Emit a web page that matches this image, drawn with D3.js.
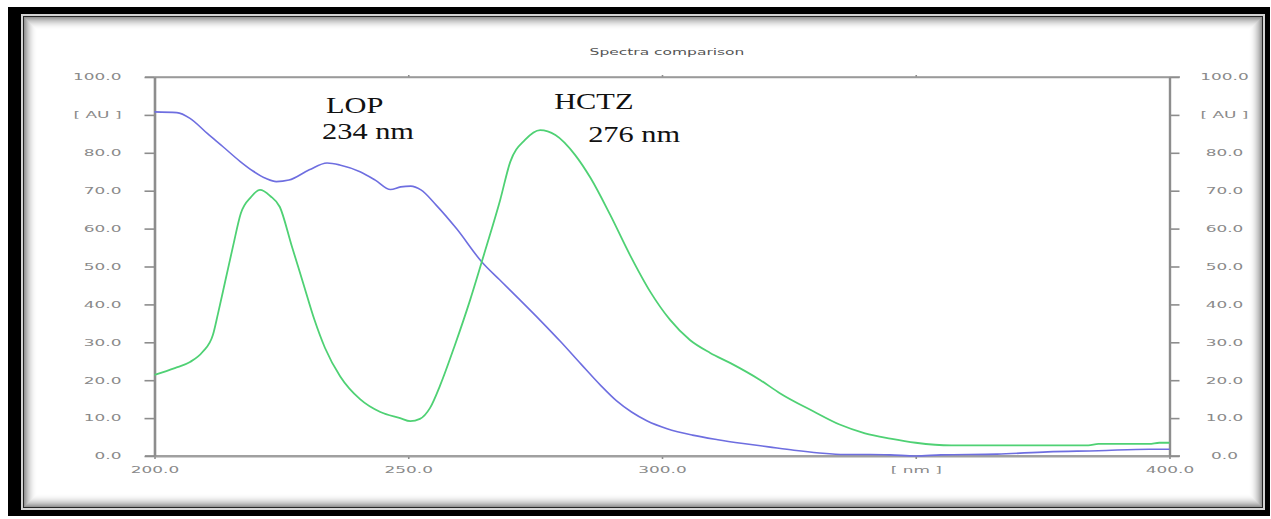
<!DOCTYPE html>
<html>
<head>
<meta charset="utf-8">
<script src="https://cdn.jsdelivr.net/npm/d3@7"></script>
<style>
  html, body { margin: 0; padding: 0; background: #fff; }
  svg { display: block; }
</style>
</head>
<body>
<svg id="chart" width="1271" height="519"></svg>
<script>
// Absorbance spectra of losartan potassium (LOP) and hydrochlorothiazide (HCTZ)
const lopNm = [200, 204.4, 207, 210.4, 213.5, 216.9, 219.4, 222, 224, 226.5, 230.5, 234, 236.5, 240.5, 243.5, 246.5, 248.5, 250.5, 252.5, 255.5, 259.5, 264.5, 268, 272, 276, 280, 284, 288, 291, 294, 297, 301, 306, 311, 316, 321, 326, 331, 336, 341, 345, 350, 355, 366, 376, 386, 396, 400];
const lopAU = [90.8, 90.6, 89.1, 85.1, 81.6, 77.7, 75.2, 73.2, 72.4, 72.8, 75.5, 77.3, 76.8, 75, 72.8, 70.3, 71, 71.2, 70.2, 66.2, 60, 51.2, 46.5, 41.2, 35.8, 30.2, 24.3, 18.5, 14.6, 11.6, 9.3, 7.2, 5.5, 4.3, 3.3, 2.4, 1.5, 0.8, 0.4, 0.4, 0.3, 0, 0.3, 0.5, 1.1, 1.4, 1.8, 1.8];

const hctzNm = [200, 204, 207, 209.5, 211.5, 212.5, 214, 215.5, 217, 219, 220.8, 222.8, 224.7, 227, 229.3, 231.5, 233.6, 236.6, 240.5, 244.5, 248.4, 250.4, 252.3, 254.3, 256.3, 259.2, 262.2, 265.2, 268.1, 270.1, 273, 276, 279, 282.9, 285.9, 289.8, 293.7, 297.7, 301.6, 305.5, 309.5, 313.5, 319.4, 323.3, 329.8, 335, 340, 345, 350, 357, 384, 386, 396, 398, 400];
const hctzAU = [21.4, 23.2, 24.8, 27.5, 31.9, 37.5, 46.5, 55.5, 64, 68.3, 70.2, 68.6, 65.7, 55.6, 45.6, 36, 28.5, 21, 15, 11.6, 10, 9.2, 9.8, 12.7, 18.7, 29.3, 41.2, 54.4, 67.5, 77.6, 83.4, 86, 84.7, 79.4, 73.4, 63.6, 53, 43.3, 35.9, 30.6, 27.2, 24.5, 20, 16.5, 11.8, 8.3, 6, 4.6, 3.5, 2.8, 2.8, 3.2, 3.2, 3.5, 3.5];

const xTicks = [200, 250, 300, 350, 400];
const yTicks = [0, 10, 20, 30, 40, 50, 60, 70, 80, 90, 100];
const xTickLabels = ["200.0", "250.0", "300.0", "[ nm ]", "400.0"];
const yTickLabels = ["0.0", "10.0", "20.0", "30.0", "40.0", "50.0", "60.0", "70.0", "80.0", "[ AU ]", "100.0"];
const chartTitle = "Spectra comparison";
const peakLabels = [
  { name: "LOP", nm: 234 },
  { name: "HCTZ", nm: 276 }
];

const svg = d3.select("#chart");

// ---- picture frame -------------------------------------------------------
svg.append("rect").attr("x", 8).attr("y", 7).attr("width", 1262).attr("height", 509).attr("fill", "#000");
svg.append("rect").attr("x", 21).attr("y", 14).attr("width", 1244).attr("height", 496).attr("fill", "#d4d4d4");
svg.append("rect").attr("x", 23).attr("y", 16).attr("width", 1240).attr("height", 492).attr("fill", "#262626");
svg.append("rect").attr("x", 24).attr("y", 17).attr("width", 1238).attr("height", 490).attr("fill", "#fff");
// soft inner shadow
const shadowSteps = 13;
for (let i = 0; i < shadowSteps; i++) {
  const t = 1 - i / shadowSteps;
  svg.append("rect")
    .attr("x", 24.5 + i).attr("y", 17.5 + i)
    .attr("width", 1237 - 2 * i).attr("height", 489 - 2 * i)
    .attr("fill", "none").attr("stroke", "#000")
    .attr("stroke-opacity", 0.42 * t * t);
}

// ---- scales --------------------------------------------------------------
const x = d3.scaleLinear().domain([200, 400]).range([154.5, 1169.5]);
const y = d3.scaleLinear().domain([0, 100]).range([456, 77]);

const axisColor = "#8d8d8d";
const labelColor = "#8a8a8a";
const tickFont = "DejaVu Sans, Verdana, sans-serif";
const stretch = 1.88;

function styleAxis(g, width) {
  g.select(".domain").attr("stroke", axisColor).attr("stroke-width", width);
  g.selectAll(".tick line").attr("stroke", axisColor).attr("stroke-width", 1.6);
  g.selectAll(".tick text")
    .attr("fill", labelColor)
    .attr("font-family", tickFont)
    .attr("font-size", 9);
}

function widen(sel, factor) {
  sel.each(function () {
    const n = this.getComputedTextLength();
    d3.select(this).attr("textLength", n * factor).attr("lengthAdjust", "spacingAndGlyphs");
  });
}

// top border line with small ticks
const gTop = svg.append("g").attr("transform", `translate(0,${y(100)})`)
  .call(d3.axisTop(x).tickValues(xTicks.slice(1, -1)).tickSize(2).tickSizeOuter(0).tickFormat(""));
styleAxis(gTop, 1.4);
gTop.select(".domain").attr("stroke", "#9a9a9a");
svg.append("line").attr("x1", 145).attr("x2", 1180).attr("y1", y(100)).attr("y2", y(100))
  .attr("stroke", "#9a9a9a").attr("stroke-width", 1.4);

// bottom axis
const gBottom = svg.append("g").attr("transform", `translate(0,${y(0)})`)
  .call(d3.axisBottom(x).tickValues(xTicks).tickSize(3).tickSizeOuter(0).tickPadding(6)
    .tickFormat((d, i) => xTickLabels[i]));
styleAxis(gBottom, 2.2);
gBottom.select(".domain").attr("stroke", "#a0a0a0");
gBottom.selectAll(".tick text").attr("dy", "0.9em");
widen(gBottom.selectAll(".tick text"), stretch);
svg.append("line").attr("x1", 145).attr("x2", 1180).attr("y1", y(0)).attr("y2", y(0))
  .attr("stroke", "#a0a0a0").attr("stroke-width", 2.2);

// left axis
const gLeft = svg.append("g").attr("transform", `translate(${x(200)},0)`)
  .call(d3.axisLeft(y).tickValues(yTicks).tickSize(10).tickSizeOuter(0).tickPadding(23)
    .tickFormat((d, i) => yTickLabels[i]));
styleAxis(gLeft, 2.6);
widen(gLeft.selectAll(".tick text"), stretch);

// right axis
const gRight = svg.append("g").attr("transform", `translate(${x(400)},0)`)
  .call(d3.axisRight(y).tickValues(yTicks).tickSize(10).tickSizeOuter(0)
    .tickFormat((d, i) => yTickLabels[i]));
styleAxis(gRight, 2.4);
gRight.selectAll(".tick text").attr("text-anchor", "middle").attr("x", 55);
widen(gRight.selectAll(".tick text"), stretch);

// title
const title = svg.append("text")
  .attr("x", 667).attr("y", 55)
  .attr("text-anchor", "middle")
  .attr("fill", "#555")
  .attr("font-family", tickFont)
  .attr("font-size", 8.6)
  .text(chartTitle);
widen(title, 1.8);

// ---- spectra -------------------------------------------------------------
const line = d3.line().x(d => x(d[0])).y(d => y(d[1])).curve(d3.curveMonotoneX);

svg.append("path")
  .datum(lopNm.map((v, i) => [v, lopAU[i]]))
  .attr("d", line)
  .attr("fill", "none")
  .attr("stroke", "#6e6ee0")
  .attr("stroke-width", 1.6);

svg.append("path")
  .datum(hctzNm.map((v, i) => [v, hctzAU[i]]))
  .attr("d", line)
  .attr("fill", "none")
  .attr("stroke", "#4fd174")
  .attr("stroke-width", 1.8);

// ---- peak annotations ----------------------------------------------------
const serif = "Liberation Serif, Times New Roman, serif";
const annot = [
  { text: peakLabels[0].name, x: x(peakLabels[0].nm) - 1, y: 113 },
  { text: peakLabels[0].nm + " nm", x: x(peakLabels[0].nm) - 5, y: 139 },
  { text: peakLabels[1].name, x: x(peakLabels[1].nm) + 14, y: 109 },
  { text: peakLabels[1].nm + " nm", x: x(peakLabels[1].nm) + 48, y: 142 }
];
const annotSel = svg.selectAll("text.peak").data(annot).join("text")
  .attr("class", "peak")
  .attr("x", d => d.x).attr("y", d => d.y)
  .attr("fill", "#111")
  .attr("font-family", serif)
  .attr("font-size", 23)
  .text(d => d.text);
widen(annotSel, 1.32);
</script>
</body>
</html>
